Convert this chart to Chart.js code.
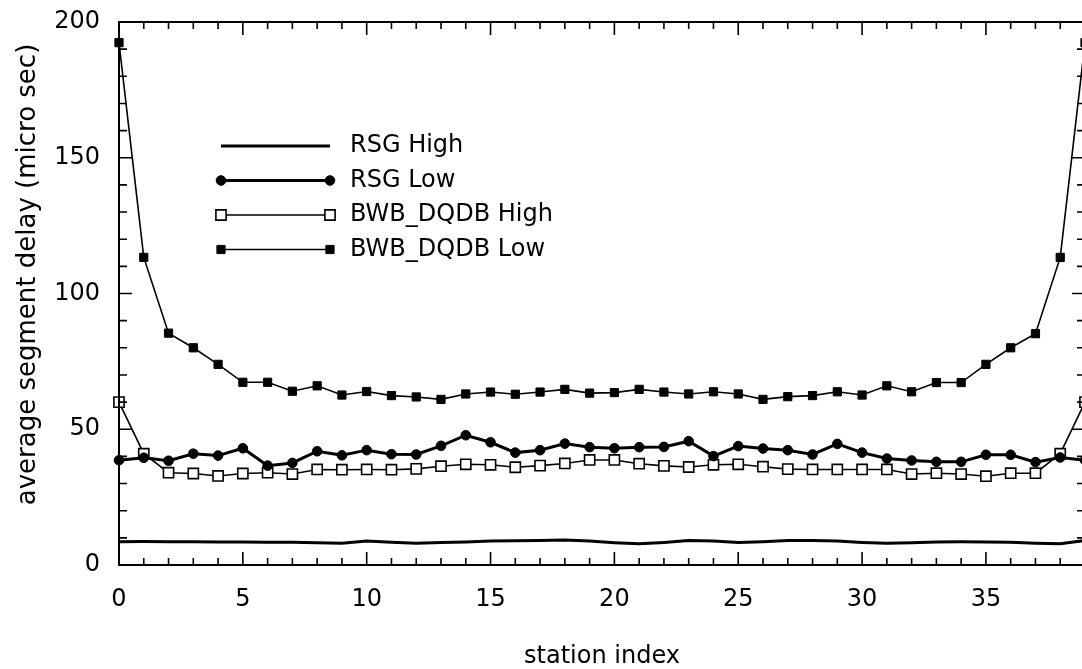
<!DOCTYPE html>
<html>
<head>
<meta charset="utf-8">
<script src="https://cdn.jsdelivr.net/npm/chart.js@4/dist/chart.umd.min.js"></script>
<style>
  html, body { margin: 0; padding: 0; background: #fff; overflow: hidden; }
  canvas { display: block; }
</style>
</head>
<body>
<canvas id="c" width="1100" height="669"></canvas>
<script>
// Station indices along the bus
const stations = [0, 1, 2, 3, 4, 5, 6, 7, 8, 9, 10, 11, 12, 13, 14, 15, 16, 17, 18, 19,
                  20, 21, 22, 23, 24, 25, 26, 27, 28, 29, 30, 31, 32, 33, 34, 35, 36, 37, 38, 39];

// Average segment delay (micro sec) per station
const rsgHigh = [8.6, 8.7, 8.6, 8.6, 8.5, 8.5, 8.4, 8.4, 8.2, 8.0, 8.8, 8.4, 8.0, 8.3, 8.5, 8.8, 8.9, 9.0, 9.2, 8.8,
                 8.2, 7.8, 8.3, 9.0, 8.8, 8.3, 8.6, 9.0, 9.0, 8.8, 8.3, 8.0, 8.2, 8.5, 8.6, 8.5, 8.4, 8.0, 7.8, 9.0];
const rsgLow = [38.6, 39.5, 38.4, 41.0, 40.3, 43.0, 36.6, 37.6, 41.9, 40.4, 42.3, 40.8, 40.7, 43.9, 47.8, 45.2, 41.4, 42.3, 44.7, 43.4,
                43.0, 43.4, 43.5, 45.6, 40.1, 43.8, 42.9, 42.3, 40.7, 44.6, 41.4, 39.2, 38.5, 38.0, 38.0, 40.6, 40.6, 37.9, 39.6, 38.6];
const bwbHigh = [60.0, 41.0, 34.0, 33.7, 32.8, 33.7, 34.0, 33.5, 35.2, 35.1, 35.2, 35.1, 35.4, 36.4, 37.1, 36.9, 36.0, 36.6, 37.4, 38.7,
                 38.7, 37.3, 36.5, 36.1, 36.9, 37.1, 36.2, 35.3, 35.2, 35.2, 35.2, 35.2, 33.5, 33.8, 33.5, 32.7, 33.8, 33.8, 41.0, 60.0];
const bwbLow = [192.4, 113.3, 85.4, 80.0, 73.9, 67.3, 67.3, 64.0, 66.0, 62.6, 63.9, 62.4, 61.9, 61.0, 63.0, 63.7, 62.9, 63.7, 64.7, 63.3,
                63.5, 64.7, 63.7, 63.0, 63.8, 63.0, 61.0, 62.0, 62.4, 63.8, 62.6, 66.0, 63.8, 67.2, 67.2, 73.9, 80.0, 85.2, 113.3, 192.4];

const seriesNames = ['RSG High', 'RSG Low', 'BWB_DQDB High', 'BWB_DQDB Low'];
const yTitle = 'average segment delay (micro sec)';
const xTitle = 'station index';
const xLabelEvery = 5;
const yLabelEvery = 50;

const FONT = 'DejaVu Sans';
const pts = vals => stations.map((s, i) => ({ x: s, y: vals[i] }));

// Inward tick marks on all four sides plus the frame around the plot
const frameTicks = {
  id: 'frameTicks',
  afterDraw(chart) {
    const { ctx, chartArea: a, scales } = chart;
    ctx.save();
    ctx.strokeStyle = '#000';
    ctx.lineWidth = 2;
    ctx.strokeRect(a.left, a.top, a.right - a.left, a.bottom - a.top);
    ctx.lineWidth = 1.6;
    ctx.beginPath();
    scales.x.ticks.forEach(t => {
      const px = scales.x.getPixelForValue(t.value);
      const len = t.value % xLabelEvery === 0 ? 13 : 7;
      ctx.moveTo(px, a.bottom); ctx.lineTo(px, a.bottom - len);
      ctx.moveTo(px, a.top); ctx.lineTo(px, a.top + len);
    });
    scales.y.ticks.forEach(t => {
      const py = scales.y.getPixelForValue(t.value);
      const len = t.value % yLabelEvery === 0 ? 13 : 8;
      ctx.moveTo(a.left, py); ctx.lineTo(a.left + len, py);
      ctx.moveTo(a.right, py); ctx.lineTo(a.right - len, py);
    });
    ctx.stroke();

    // Vertical axis title, set a little above the plot's middle
    ctx.translate(28, (a.top + a.bottom) / 2 - 19);
    ctx.rotate(-Math.PI / 2);
    ctx.fillStyle = '#000';
    ctx.font = '26px "' + FONT + '"';
    ctx.textAlign = 'center';
    ctx.textBaseline = 'middle';
    ctx.fillText(yTitle, 0, 0);
    ctx.restore();
  }
};

// Legend inside the plot: a sample segment with a marker at each end
const insideLegend = {
  id: 'insideLegend',
  afterDraw(chart) {
    const { ctx, chartArea: a } = chart;
    const x1 = a.left + 102, x2 = a.left + 211, tx = a.left + 231;
    const y0 = a.top + 124, dy = 34.5;
    ctx.save();
    chart.data.datasets.forEach((ds, i) => {
      const y = y0 + i * dy;
      ctx.strokeStyle = ds.borderColor;
      ctx.lineWidth = ds.borderWidth;
      ctx.beginPath();
      ctx.moveTo(x1, y); ctx.lineTo(x2, y);
      ctx.stroke();
      [x1, x2].forEach(x => {
        if (!ds.pointRadius) return;
        ctx.beginPath();
        if (ds.pointStyle === 'circle') {
          ctx.arc(x, y, ds.pointRadius, 0, Math.PI * 2);
        } else {
          const h = ds.pointRadius * Math.SQRT1_2;
          ctx.rect(x - h, y - h, 2 * h, 2 * h);
        }
        ctx.fillStyle = ds.pointBackgroundColor;
        ctx.fill();
        ctx.lineWidth = ds.pointBorderWidth;
        ctx.strokeStyle = ds.pointBorderColor;
        ctx.stroke();
      });
      ctx.fillStyle = '#000';
      ctx.font = '24px "' + FONT + '"';
      ctx.textBaseline = 'middle';
      ctx.textAlign = 'left';
      ctx.fillText(ds.label, tx, y);
    });
    ctx.restore();
  }
};

new Chart(document.getElementById('c'), {
  type: 'line',
  data: {
    datasets: [
      { label: seriesNames[0], data: pts(rsgHigh), borderColor: '#000', borderWidth: 3,
        pointRadius: 0, pointStyle: 'circle', pointBackgroundColor: '#000', pointBorderColor: '#000', pointBorderWidth: 0,
        clip: false },
      { label: seriesNames[1], data: pts(rsgLow), borderColor: '#000', borderWidth: 3,
        pointRadius: 4.8, pointStyle: 'circle', pointBackgroundColor: '#000', pointBorderColor: '#000', pointBorderWidth: 1,
        clip: false },
      { label: seriesNames[2], data: pts(bwbHigh), borderColor: '#000', borderWidth: 1.6,
        pointRadius: 7.2, pointStyle: 'rect', pointBackgroundColor: '#fff', pointBorderColor: '#000', pointBorderWidth: 1.6,
        clip: false },
      { label: seriesNames[3], data: pts(bwbLow), borderColor: '#000', borderWidth: 1.6,
        pointRadius: 5.8, pointStyle: 'rect', pointBackgroundColor: '#000', pointBorderColor: '#000', pointBorderWidth: 1,
        clip: false }
    ]
  },
  options: {
    responsive: false,
    animation: false,
    events: [],
    layout: { padding: { top: 22, right: 15, bottom: 0, left: 0 } },
    plugins: { legend: { display: false }, tooltip: { enabled: false } },
    elements: { line: { tension: 0 } },
    scales: {
      x: {
        type: 'linear', min: 0, max: 39,
        grid: { display: false, drawTicks: false },
        border: { display: false },
        ticks: {
          stepSize: 1, autoSkip: false, maxRotation: 0, padding: 20,
          color: '#000', font: { family: FONT, size: 24 },
          callback: v => (v % xLabelEvery === 0 ? String(v) : '')
        },
        title: {
          display: true, text: xTitle, color: '#000',
          font: { family: FONT, size: 24, lineHeight: 1 }, padding: { top: 0, bottom: 0 }
        },
        afterFit: s => { s.height = 104; s.paddingLeft = 0; s.paddingRight = 0; }
      },
      y: {
        type: 'linear', min: 0, max: 200,
        grid: { display: false, drawTicks: false },
        border: { display: false },
        ticks: {
          stepSize: 10, autoSkip: false, padding: 19,
          color: '#000', font: { family: FONT, size: 24 },
          callback: v => (v % yLabelEvery === 0 ? String(v) : '')
        },
        title: { display: false },
        afterFit: s => { s.width = 119; s.paddingTop = 0; s.paddingBottom = 0; }
      }
    }
  },
  plugins: [frameTicks, insideLegend]
});
</script>
</body>
</html>
